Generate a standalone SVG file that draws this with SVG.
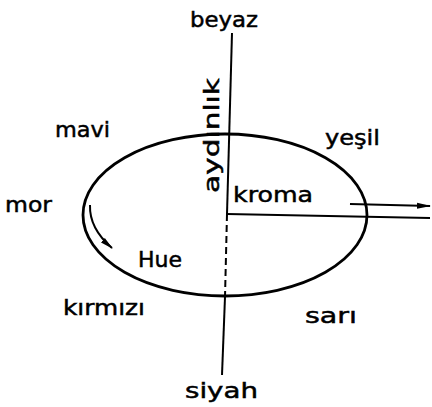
<svg xmlns="http://www.w3.org/2000/svg" width="432" height="407" viewBox="0 0 432 407">
<style>
text{font-family:"DejaVu Sans","Liberation Sans",sans-serif;font-size:22px;fill:#000;stroke:#000;stroke-width:0.5}
.ln{fill:none;stroke:#000;stroke-width:2}
.dash{fill:none;stroke:#000;stroke-width:2;stroke-dasharray:7 4}
</style>
<defs>
<marker id="ah" markerWidth="14" markerHeight="8" refX="13" refY="4" orient="auto" markerUnits="userSpaceOnUse">
<path d="M0,1 L14,4 L0,7 Z" fill="#000"/>
</marker>
<marker id="ah2" markerWidth="13" markerHeight="8" refX="12" refY="4" orient="auto" markerUnits="userSpaceOnUse">
<path d="M0,1 L13,4 L0,7 Z" fill="#000"/>
</marker>
</defs>
<g id="ellipse">
<ellipse cx="225" cy="215" rx="142" ry="81" fill="none" stroke="#000" stroke-width="2.8"/>
</g>
<g id="connectors">
<path class="ln" d="M232,33 L227,214"/>
<path class="dash" d="M227,214 L225,297"/>
<path class="ln" d="M225,297 L222,375"/>
<path class="ln" d="M227,214 L430,218"/>
<path class="ln" d="M350,204 L430,206" marker-end="url(#ah)"/>
<path class="ln" stroke-width="2.4" d="M90,205 A136 76 0 0 0 112,248" marker-end="url(#ah2)"/>
</g>
<g id="beyaz"><text x="190" y="27" textLength="68" lengthAdjust="spacingAndGlyphs">beyaz</text></g>
<g id="mavi"><text x="55" y="137" textLength="55" lengthAdjust="spacingAndGlyphs">mavi</text></g>
<g id="yesil"><text x="325" y="145" textLength="55" lengthAdjust="spacingAndGlyphs">yeşil</text></g>
<g id="mor"><text x="5" y="212" textLength="47" lengthAdjust="spacingAndGlyphs">mor</text></g>
<g id="kroma"><text x="233" y="202" textLength="80" lengthAdjust="spacingAndGlyphs">kroma</text></g>
<g id="hue"><text x="138" y="267" textLength="44" lengthAdjust="spacingAndGlyphs">Hue</text></g>
<g id="kirmizi"><text x="63" y="315" textLength="82" lengthAdjust="spacingAndGlyphs">kırmızı</text></g>
<g id="sari"><text x="305" y="323" textLength="52" lengthAdjust="spacingAndGlyphs">sarı</text></g>
<g id="siyah"><text x="185" y="398" textLength="73" lengthAdjust="spacingAndGlyphs">siyah</text></g>
<g id="aydinlik"><text transform="translate(219,193) rotate(-90)" x="0" y="0" textLength="115" lengthAdjust="spacingAndGlyphs">aydınlık</text></g>
</svg>
